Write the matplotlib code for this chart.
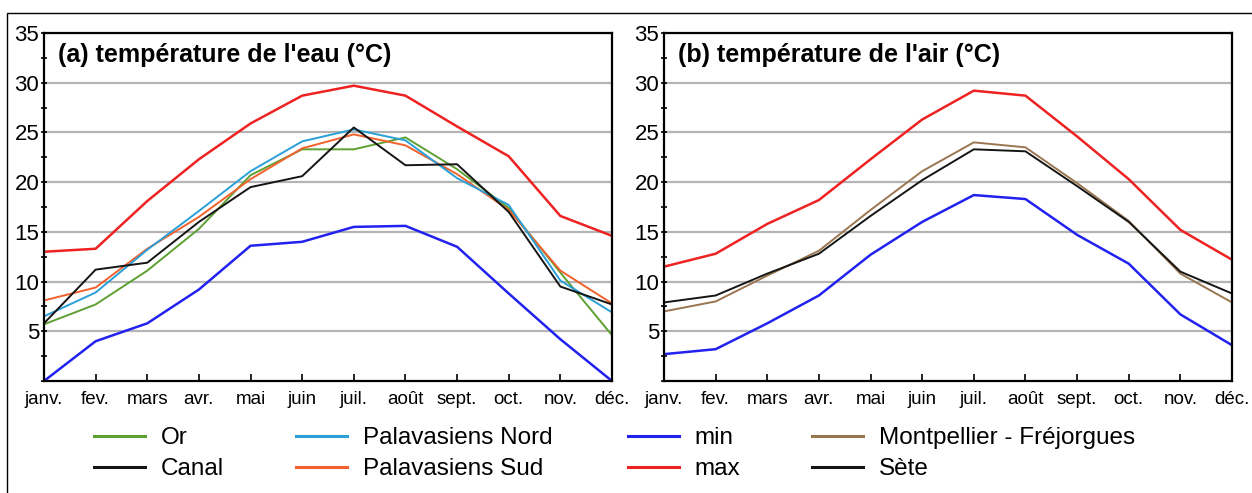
import numpy as np
import matplotlib
matplotlib.use('Agg')
import matplotlib.pyplot as plt
from matplotlib.patches import Rectangle
from matplotlib.ticker import MultipleLocator

plt.rcParams['font.family'] = ['Liberation Sans', 'DejaVu Sans']

months = ['janv.', 'fev.', 'mars', 'avr.', 'mai', 'juin',
          'juil.', 'août', 'sept.', 'oct.', 'nov.', 'déc.']

# (a) water temperature, monthly means (°C)
eau_or = [5.7, 7.7, 11.1, 15.3, 20.7, 23.3, 23.3, 24.5, 21.3, 17.4, 10.9, 4.6]
eau_canal = [5.8, 11.2, 11.9, 16.0, 19.5, 20.6, 25.5, 21.7, 21.8, 17.0, 9.5, 7.7]
eau_pal_nord = [6.5, 8.9, 13.2, 17.1, 21.1, 24.1, 25.3, 24.2, 20.4, 17.7, 10.1, 6.9]
eau_pal_sud = [8.1, 9.4, 13.3, 16.5, 20.3, 23.4, 24.8, 23.7, 20.8, 17.2, 11.1, 7.8]
eau_min = [0.0, 4.0, 5.8, 9.2, 13.6, 14.0, 15.5, 15.6, 13.5, 8.8, 4.2, 0.0]
eau_max = [13.0, 13.3, 18.1, 22.3, 25.9, 28.7, 29.7, 28.7, 25.6, 22.6, 16.6, 14.6]

# (b) air temperature, monthly means (°C)
air_montpellier = [7.0, 8.0, 10.6, 13.1, 17.2, 21.1, 24.0, 23.5, 19.9, 16.1, 10.8, 7.9]
air_sete = [7.9, 8.6, 10.8, 12.8, 16.6, 20.2, 23.3, 23.1, 19.6, 16.0, 11.0, 8.8]
air_min = [2.7, 3.2, 5.8, 8.6, 12.7, 16.0, 18.7, 18.3, 14.7, 11.8, 6.7, 3.6]
air_max = [11.5, 12.8, 15.8, 18.2, 22.3, 26.3, 29.2, 28.7, 24.6, 20.3, 15.2, 12.2]

c_or = '#5ea032'
c_black = '#151515'
c_nord = '#2a9fd8'
c_sud = '#f2612d'
c_min = '#2222f0'
c_max = '#ee2222'
c_mtp = '#9a7650'

fig = plt.figure(figsize=(12.52, 4.93), dpi=100)
W, H = 1252.0, 493.0
ax1 = fig.add_axes([44 / W, 1 - 381 / H, 568 / W, 348 / H])
ax2 = fig.add_axes([664 / W, 1 - 381 / H, 568 / W, 348 / H])

x = np.arange(len(months))

l_max, = ax1.plot(x, eau_max, color=c_max, lw=1.8, label='max')
l_min, = ax1.plot(x, eau_min, color=c_min, lw=1.8, label='min')
l_or, = ax1.plot(x, eau_or, color=c_or, lw=1.4, label='Or')
l_sud, = ax1.plot(x, eau_pal_sud, color=c_sud, lw=1.4, label='Palavasiens Sud')
l_nord, = ax1.plot(x, eau_pal_nord, color=c_nord, lw=1.4, label='Palavasiens Nord')
l_canal, = ax1.plot(x, eau_canal, color=c_black, lw=1.4, label='Canal')

ax2.plot(x, air_max, color=c_max, lw=1.8)
ax2.plot(x, air_min, color=c_min, lw=1.8)
l_mtp, = ax2.plot(x, air_montpellier, color=c_mtp, lw=1.4, label='Montpellier - Fréjorgues')
l_sete, = ax2.plot(x, air_sete, color=c_black, lw=1.4, label='Sète')

titles = ["(a) température de l'eau (°C)", "(b) température de l'air (°C)"]
for ax, title in zip([ax1, ax2], titles):
    ax.set_xlim(0, 11)
    ax.set_ylim(0, 35)
    ax.yaxis.set_minor_locator(MultipleLocator(2.5))
    ax.set_yticks([5, 10, 15, 20, 25, 30, 35])
    ax.set_xticks(x)
    ax.set_xticklabels(months, fontsize=13.5)
    ax.tick_params(axis='y', which='both', direction='inout', length=5, width=1.2,
                   labelsize=16, pad=1)
    ax.tick_params(axis='x', direction='in', length=5, width=1.2, pad=7)
    ax.grid(axis='y', which='major', color='#b4b4b4', lw=1.6)
    ax.set_axisbelow(True)
    for s in ax.spines.values():
        s.set_linewidth(1.6)
        s.set_color('black')
    ax.text(0.025, 0.97, title, transform=ax.transAxes, ha='left', va='top',
            fontsize=18, fontweight='bold')

# legend in four separate columns under the panels
leg_kw = dict(loc='upper left', frameon=False, fontsize=17.5, handlelength=2.1,
              handletextpad=0.65, labelspacing=0.38, borderaxespad=0, borderpad=0)
columns = [([l_or, l_canal], 94), ([l_nord, l_sud], 296),
           ([l_min, l_max], 628), ([l_mtp, l_sete], 812)]
for handles, xpos in columns:
    leg = fig.legend(handles=handles, labels=[h.get_label() for h in handles],
                     bbox_to_anchor=(xpos / W, 1 - 427 / H), **leg_kw)
    for h in leg.legend_handles:
        h.set_linewidth(2.2)

# outer frame
fig.patches.append(Rectangle((7 / W, -0.05), 1.0, 1 - 13 / H + 0.05,
                             transform=fig.transFigure, fill=False,
                             ec='black', lw=1.0))

fig.savefig('out.png', dpi=100)
